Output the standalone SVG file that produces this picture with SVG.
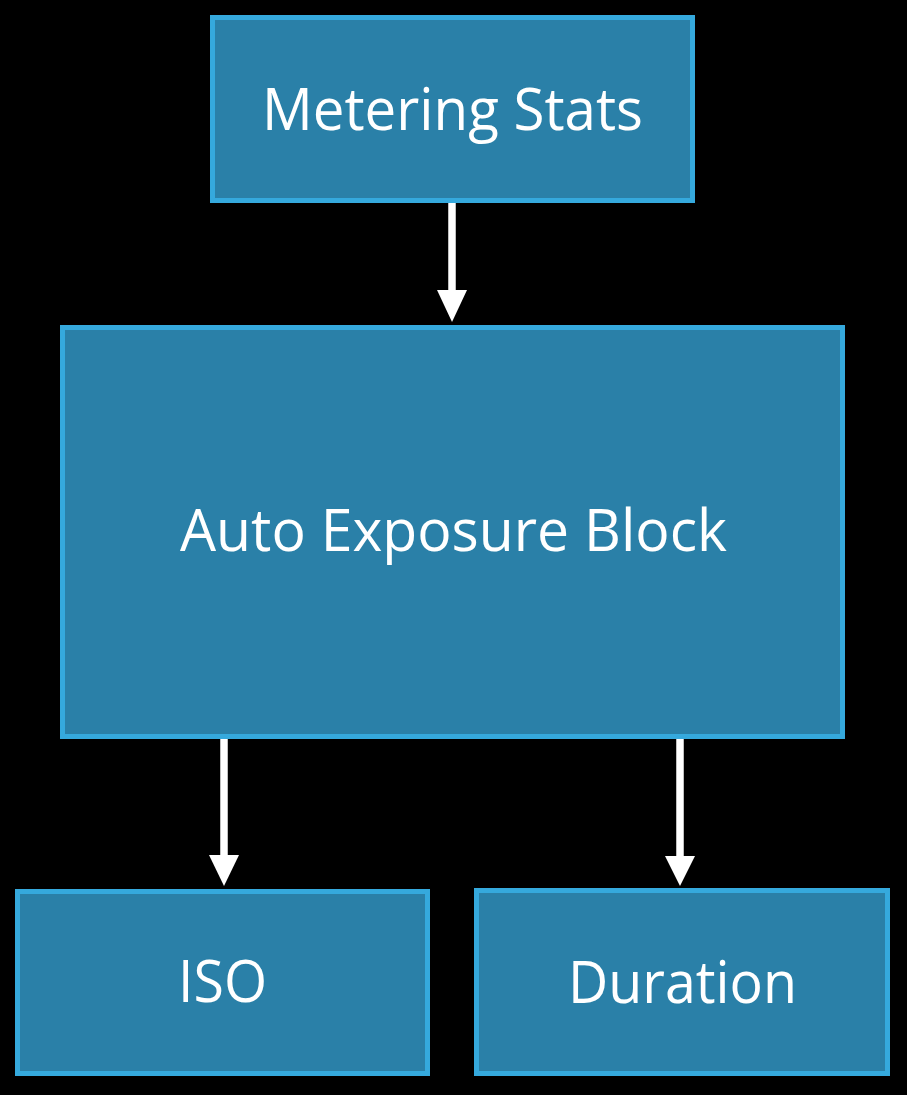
<svg xmlns="http://www.w3.org/2000/svg" width="907" height="1095" viewBox="0 0 907 1095">
<defs>
<style>
.box{fill:#2a80a8;stroke:#35a9dd;stroke-width:5}
.lbl{font-family:"Open Sans","Noto Sans",sans-serif;font-size:58px;fill:#ffffff;text-anchor:middle}
.conn{stroke:#ffffff;stroke-width:7.5;fill:none}
.head{fill:#ffffff}
</style>
</defs>
<rect width="907" height="1095" fill="#000000"/>
<g id="connectors">
<line class="conn" x1="452" y1="203" x2="452" y2="292"/>
<polygon class="head" points="437,290 467,290 452,322"/>
<line class="conn" x1="224" y1="739" x2="224" y2="857"/>
<polygon class="head" points="209,855 239,855 224,886"/>
<line class="conn" x1="680" y1="739" x2="680" y2="858"/>
<polygon class="head" points="665,856 695,856 680,886"/>
</g>
<g id="metering">
<rect class="box" x="212.5" y="17.5" width="480" height="183"/>
<text class="lbl" x="452.5" y="130" textLength="381" lengthAdjust="spacingAndGlyphs">Metering Stats</text>
</g>
<g id="auto">
<rect class="box" x="62.5" y="327.5" width="780" height="409"/>
<text class="lbl" x="453.5" y="551" textLength="547" lengthAdjust="spacingAndGlyphs">Auto Exposure Block</text>
</g>
<g id="iso">
<rect class="box" x="17.5" y="891.5" width="410" height="182"/>
<text class="lbl" x="222.5" y="1002" textLength="89" lengthAdjust="spacingAndGlyphs">ISO</text>
</g>
<g id="duration">
<rect class="box" x="476.5" y="890.5" width="411" height="183"/>
<text class="lbl" x="682.5" y="1003" textLength="229" lengthAdjust="spacingAndGlyphs">Duration</text>
</g>
</svg>
